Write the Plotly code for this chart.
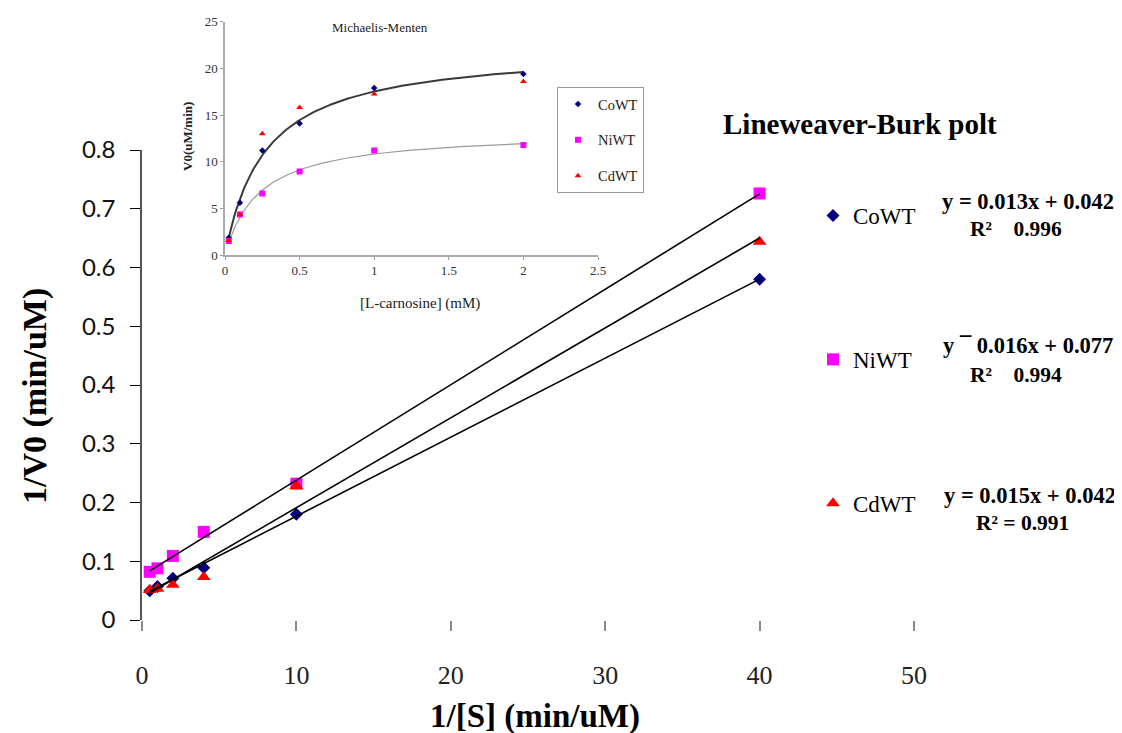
import numpy as np
import plotly.graph_objects as go

PAGE_W, PAGE_H = 1122, 733
OFF = 8  # default page body margin
W, H = PAGE_W - OFF, PAGE_H - OFF

# ---------------- data: Lineweaver-Burk (main) ----------------
inv_s = [0.5, 1, 2, 4, 10, 40]
co_inv_v = [0.050, 0.057, 0.071, 0.089, 0.180, 0.580]
ni_inv_v = [0.082, 0.088, 0.109, 0.150, 0.232, 0.726]
cd_inv_v = [0.051, 0.053, 0.060, 0.073, 0.228, 0.644]

series_names = ["CoWT", "NiWT", "CdWT"]
eq_text = ["y = 0.013x + 0.042", "y \u00af 0.016x + 0.077", "y = 0.015x + 0.042"]
r2_text = ["R\u00b2\u00a0\u00a0\u00a0\u00a00.996", "R\u00b2\u00a0\u00a0\u00a0\u00a00.994", "R\u00b2 = 0.991"]

# ---------------- data: Michaelis-Menten (inset) ----------------
subs_mm = [0.025, 0.1, 0.25, 0.5, 1, 2]
co_v = [1.85, 5.6, 11.2, 14.1, 17.9, 19.4]
ni_v = [1.5, 4.35, 6.6, 8.95, 11.2, 11.8]
cd_v = [1.55, 4.35, 13.0, 15.8, 17.25, 18.6]

main_x_ticks = [0, 10, 20, 30, 40, 50]
main_y_ticks = [0, 0.1, 0.2, 0.3, 0.4, 0.5, 0.6, 0.7, 0.8]
inset_x_ticks = [0, 0.5, 1, 1.5, 2, 2.5]
inset_y_ticks = [0, 5, 10, 15, 20, 25]

colors = ["#000080", "#FF00FF", "#FF0000"]
symbols = ["diamond", "square", "triangle-up"]
sizes_main = [10, 12, 12]
sizes_inset = [5, 6, 6]

SERIF = "Liberation Serif, Times New Roman, serif"


def px_x(p):
    return (p - OFF) / W


def px_y(p):
    return (PAGE_H - p) / H


def mm_fit(s, v):
    s = np.asarray(s, float)
    v = np.asarray(v, float)
    best = None
    for km in np.linspace(0.01, 2.0, 4000):
        f = s / (km + s)
        vmax = (f * v).sum() / (f * f).sum()
        sse = ((vmax * f - v) ** 2).sum()
        if best is None or sse < best[0]:
            best = (sse, km, vmax)
    return best[1], best[2]


fig = go.Figure()

# main scatter points
for name, ys, c, sym, sz in zip(series_names, [co_inv_v, ni_inv_v, cd_inv_v], colors, symbols, sizes_main):
    fig.add_trace(go.Scatter(
        x=inv_s, y=ys, mode="markers", name=name,
        marker=dict(color=c, symbol=sym, size=sz, line=dict(width=0)),
        legend="legend", legendgroup=name, xaxis="x", yaxis="y",
    ))

# linear trendlines (least squares)
for name, ys in zip(series_names, [co_inv_v, ni_inv_v, cd_inv_v]):
    k, b = np.polyfit(inv_s, ys, 1)
    xs = np.array([min(inv_s), max(inv_s)])
    fig.add_trace(go.Scatter(
        x=xs, y=k * xs + b, mode="lines", showlegend=False,
        line=dict(color="black", width=1.6), xaxis="x", yaxis="y", hoverinfo="skip",
    ))

# inset MM fitted curves
s_line = np.linspace(min(subs_mm), max(subs_mm), 200)
for vs, col, wd in [(co_v, "#3a3a3a", 2.0), (ni_v, "#9a9a9a", 1.2)]:
    km, vmax = mm_fit(subs_mm, vs)
    fig.add_trace(go.Scatter(
        x=s_line, y=vmax * s_line / (km + s_line), mode="lines", showlegend=False,
        line=dict(color=col, width=wd), xaxis="x2", yaxis="y2", hoverinfo="skip",
    ))

# inset points
for name, vs, c, sym, sz in zip(series_names, [co_v, ni_v, cd_v], colors, symbols, sizes_inset):
    fig.add_trace(go.Scatter(
        x=subs_mm, y=vs, mode="markers", name=name,
        marker=dict(color=c, symbol=sym, size=sz, line=dict(width=0)),
        legend="legend2", legendgroup="inset_" + name, xaxis="x2", yaxis="y2",
    ))

annotations = [
    dict(text="<b>1/[S] (min/uM)</b>", x=px_x(535), y=px_y(716), xref="paper", yref="paper",
         showarrow=False, font=dict(family=SERIF, size=33, color="black"), xanchor="center", yanchor="middle"),
    dict(text="<b>1/V0 (min/uM)</b>", x=px_x(35), y=px_y(396), xref="paper", yref="paper",
         showarrow=False, textangle=-90, font=dict(family=SERIF, size=34, color="black"),
         xanchor="center", yanchor="middle"),
    dict(text="<b>Lineweaver-Burk polt</b>", x=px_x(860), y=px_y(124), xref="paper", yref="paper",
         showarrow=False, font=dict(family=SERIF, size=29, color="black"), xanchor="center", yanchor="middle"),
    dict(text="Michaelis-Menten", x=px_x(380), y=px_y(27), xref="paper", yref="paper",
         showarrow=False, font=dict(family=SERIF, size=13, color="#222"), xanchor="center", yanchor="middle"),
    dict(text="[L-carnosine] (mM)", x=px_x(420), y=px_y(303), xref="paper", yref="paper",
         showarrow=False, font=dict(family=SERIF, size=15, color="#222"), xanchor="center", yanchor="middle"),
    dict(text="<b>V0(uM/min)</b>", x=px_x(188), y=px_y(137), xref="paper", yref="paper",
         showarrow=False, textangle=-90, font=dict(family=SERIF, size=13, color="#222"),
         xanchor="center", yanchor="middle"),
]

eq_pos = [(1028, 201, 1016, 229), (1028, 346, 1016, 375), (1030, 495, 1022, 523)]
for eq, r2, (ex, ey, rx, ry) in zip(eq_text, r2_text, eq_pos):
    annotations.append(dict(text="<b>" + eq + "</b>", x=px_x(ex), y=px_y(ey), xref="paper", yref="paper",
                            showarrow=False, font=dict(family=SERIF, size=22.5, color="black"),
                            xanchor="center", yanchor="middle"))
    annotations.append(dict(text="<b>" + r2 + "</b>", x=px_x(rx), y=px_y(ry), xref="paper", yref="paper",
                            showarrow=False, font=dict(family=SERIF, size=21.5, color="black"),
                            xanchor="center", yanchor="middle"))

fig.update_layout(
    width=W, height=H,
    margin=dict(l=0, r=0, t=0, b=0),
    paper_bgcolor="white", plot_bgcolor="rgba(0,0,0,0)",
    xaxis=dict(domain=[px_x(142), px_x(914)], range=[0, 50], tickvals=main_x_ticks,
               ticks="outside", ticklen=10, tickcolor="#888", tickwidth=1.5,
               showline=False, showgrid=False, zeroline=False,
               tickfont=dict(family=SERIF, size=26, color="#222"), ticklabelstandoff=22,
               anchor="y", automargin=False),
    yaxis=dict(domain=[px_y(620), px_y(150)], range=[0, 0.8], tickvals=main_y_ticks,
               ticktext=[("%g" % v) for v in main_y_ticks],
               ticks="outside", ticklen=10, tickcolor="black", tickwidth=1,
               showline=True, linecolor="#555", linewidth=1.5, showgrid=False, zeroline=False,
               tickfont=dict(family="Lato, Open Sans, sans-serif", size=24, color="#111"), ticklabelstandoff=10,
               anchor="x", automargin=False),
    xaxis2=dict(domain=[px_x(225), px_x(598)], range=[0, 2.5], tickvals=inset_x_ticks,
                ticktext=[("%g" % v) for v in inset_x_ticks],
                ticks="outside", ticklen=3, tickcolor="#999", showline=True, linecolor="#aaa", linewidth=1.5,
                showgrid=False, zeroline=False, tickfont=dict(family=SERIF, size=13, color="#333"),
                anchor="y2", automargin=False),
    yaxis2=dict(domain=[px_y(255), px_y(21.7)], range=[0, 25], tickvals=inset_y_ticks,
                ticks="outside", ticklen=3, tickcolor="#999", showline=True, linecolor="#aaa", linewidth=1.5,
                showgrid=False, zeroline=False, tickfont=dict(family=SERIF, size=13, color="#333"),
                anchor="x2", automargin=False),
    legend=dict(x=px_x(813), y=px_y(194), xanchor="left", yanchor="top",
                font=dict(family=SERIF, size=23, color="black"), tracegroupgap=111,
                traceorder="grouped", bgcolor="rgba(0,0,0,0)", borderwidth=0, itemsizing="trace"),
    legend2=dict(x=px_x(557), y=px_y(87), xanchor="left", yanchor="top",
                 font=dict(family=SERIF, size=14.5, color="#222"), tracegroupgap=14,
                 traceorder="grouped", bgcolor="white", bordercolor="#999", borderwidth=1,
                 itemwidth=30),
    annotations=annotations,
    showlegend=True,
)

fig.write_html("out.html")
